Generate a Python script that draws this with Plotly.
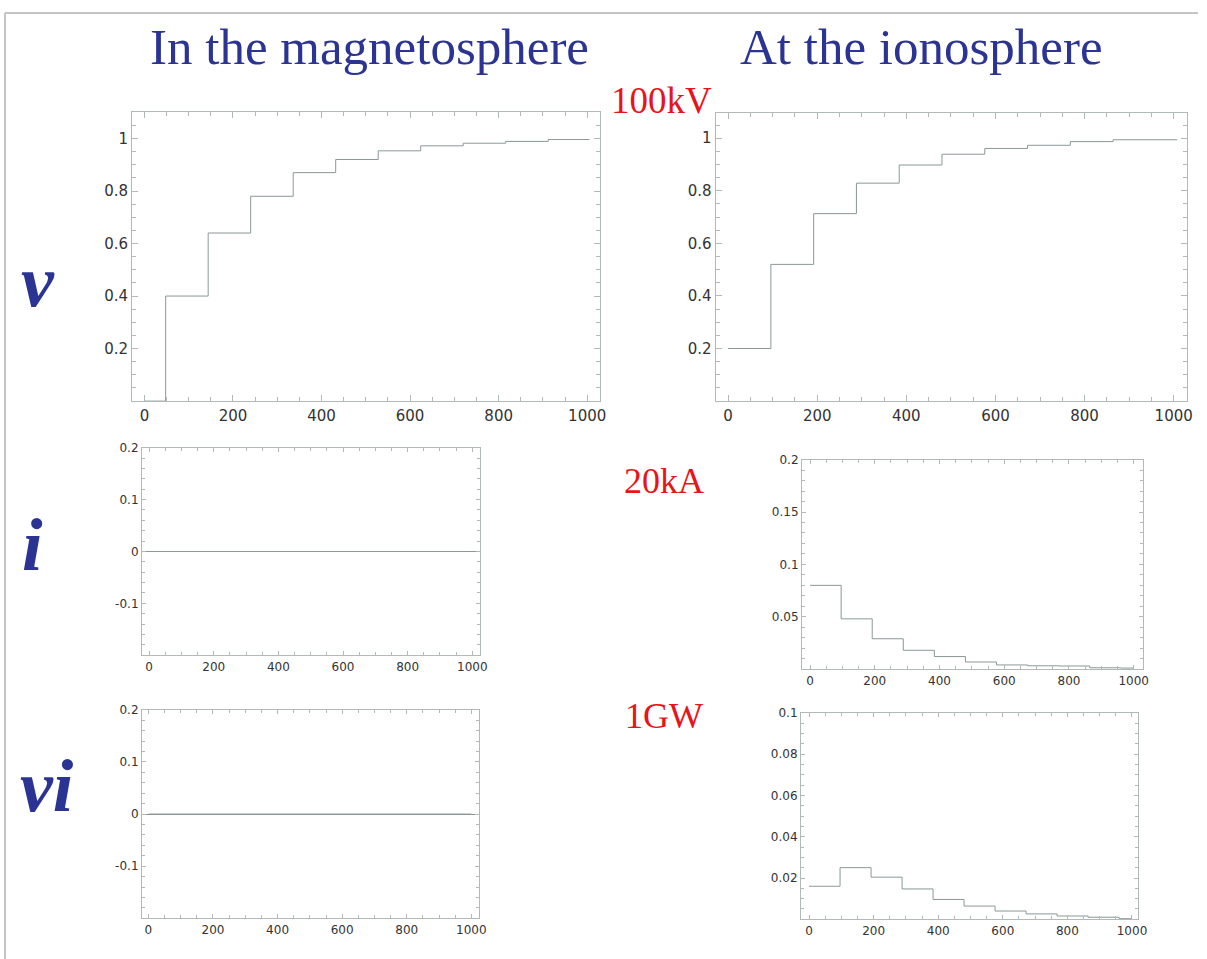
import plotly.graph_objects as go

W, H = 1207, 959

# ---- data ----
t_v_mag = [0, 48, 144, 240, 336, 432, 528, 624, 720, 816, 912, 1005]
v_mag = [0.0, 0.40, 0.64, 0.78, 0.87, 0.92, 0.953, 0.972, 0.982, 0.989, 0.996, 0.996]

t_v_ion = [0, 96, 192, 288, 384, 480, 576, 672, 768, 864, 1008]
v_ion = [0.2, 0.52, 0.713, 0.829, 0.898, 0.939, 0.961, 0.973, 0.987, 0.994, 0.994]

t_i_mag = [0, 1000]
i_mag = [0.0, 0.0]

t_i_ion = [0, 96, 192, 288, 384, 480, 576, 672, 768, 864, 960, 1000]
i_ion = [0.080, 0.048, 0.029, 0.018, 0.012, 0.0068, 0.0040, 0.0032, 0.0030, 0.0013, 0.0010, 0.0010]

t_vi_mag = [0, 1000]
vi_mag = [0.0, 0.0]

t_vi_ion = [0, 96, 192, 288, 384, 480, 576, 672, 768, 864, 960, 1000]
vi_ion = [0.016, 0.025, 0.0204, 0.0147, 0.0096, 0.0064, 0.0040, 0.0026, 0.0016, 0.0010, 0.0003, 0.0003]

x_ticks = [0, 200, 400, 600, 800, 1000]
y_ticks_v = [0.2, 0.4, 0.6, 0.8, 1.0]
y_text_v = ["0.2", "0.4", "0.6", "0.8", "1"]
y_ticks_zero = [-0.1, 0, 0.1, 0.2]
y_text_zero = ["-0.1", "0", "0.1", "0.2"]
y_ticks_i = [0.05, 0.1, 0.15, 0.2]
y_text_i = ["0.05", "0.1", "0.15", "0.2"]
y_ticks_vi = [0.02, 0.04, 0.06, 0.08, 0.1]
y_text_vi = ["0.02", "0.04", "0.06", "0.08", "0.1"]

col_titles = ["In the magnetosphere", "At the ionosphere"]
row_labels = ["v", "i", "vi"]
unit_labels = ["100kV", "20kA", "1GW"]

# ---- styling ----
BLUE = "#2b3492"
RED = "#e8141b"
FRAME = "#b2bab5"
LINE = "#8a9898"
TICKCOL = "#333333"

def px_dom_x(a, b):
    return [a / W, b / W]

def px_dom_y(top, bottom):
    return [1 - bottom / H, 1 - top / H]

panels = [
    # (x data, y data, xdomain px, ydomain px, yrange, yticks, ytext, yminor, fontsize, xrange, zeroline)
    (t_v_mag, v_mag, (133, 605), (106, 397), [0, 1.1], y_ticks_v, y_text_v, 0.05, 15, [-28, 1030], False),
    (t_v_ion, v_ion, (721, 1196), (107, 397), [0, 1.095], y_ticks_v, y_text_v, 0.05, 15, [-28, 1030], False),
    (t_i_mag, i_mag, (143, 484), (444, 653), [-0.2, 0.2], y_ticks_zero, y_text_zero, 0.02, 12, [-22, 1025], True),
    (t_i_ion, i_ion, (808, 1152), (456, 667), [0, 0.2], y_ticks_i, y_text_i, 0.01, 12, [-25, 1030], False),
    (t_vi_mag, vi_mag, (143, 483), (708, 918), [-0.2, 0.2], y_ticks_zero, y_text_zero, 0.02, 12, [-20, 1025], True),
    (t_vi_ion, vi_ion, (807, 1147), (711, 919), [0, 0.1], y_ticks_vi, y_text_vi, 0.005, 12, [-25, 1020], False),
]

fig = go.Figure()
layout = dict(
    width=W, height=H,
    margin=dict(l=0, r=0, t=0, b=0),
    paper_bgcolor="white", plot_bgcolor="white",
    showlegend=False,
)

for k, (xs, ys, xd, yd, yr, yt, ytx, ymin, fs, xr, zl) in enumerate(panels):
    n = k + 1
    xa = "x" if n == 1 else f"x{n}"
    ya = "y" if n == 1 else f"y{n}"
    fig.add_trace(go.Scatter(x=xs, y=ys, mode="lines", line=dict(color=LINE, width=1, shape="hv"),
                             xaxis=xa, yaxis=ya, hoverinfo="skip"))
    big = fs >= 14
    tl = 6 if big else 4
    common = dict(showline=True, linecolor=FRAME, linewidth=1, mirror="allticks",
                  ticks="inside", ticklen=tl, tickcolor=FRAME, tickwidth=1,
                  showgrid=False,
                  tickfont=dict(family="DejaVu Sans", size=fs, color=TICKCOL))
    layout["xaxis" if n == 1 else f"xaxis{n}"] = dict(
        domain=px_dom_x(*xd), range=xr, anchor=ya, tickvals=x_ticks,
        ticktext=[str(v) for v in x_ticks], zeroline=False,
        minor=dict(dtick=50, tick0=0, ticks="inside", ticklen=tl // 2 + 1, tickcolor=FRAME),
        ticklabelstandoff=0 if not big else 1,
        **common)
    layout["yaxis" if n == 1 else f"yaxis{n}"] = dict(
        domain=px_dom_y(*yd), range=yr, anchor=xa, tickvals=yt, ticktext=ytx,
        zeroline=zl, zerolinecolor=LINE, zerolinewidth=1,
        minor=dict(dtick=ymin, tick0=0, ticks="inside", ticklen=tl // 2 + 1, tickcolor=FRAME),
        ticklabelstandoff=0,
        **common)

ann = []
def A(text, x, y, size, color, bold=False, italic=False):
    t = text
    if bold:
        t = f"<b>{t}</b>"
    if italic:
        t = f"<i>{t}</i>"
    ann.append(dict(text=t, x=x / W, y=1 - y / H, xref="paper", yref="paper",
                    xanchor="center", yanchor="middle", showarrow=False,
                    font=dict(family="Liberation Serif", size=size, color=color)))

A(col_titles[0], 372, 40, 51, BLUE)
A(col_titles[1], 928, 40, 51, BLUE)
A(unit_labels[0], 666, 94, 37, RED)
A(unit_labels[1], 669, 477, 36, RED)
A(unit_labels[2], 669, 714, 36, RED)
A(row_labels[0], 38, 276, 74, BLUE, bold=True, italic=True)
A(row_labels[1], 33, 542, 74, BLUE, bold=True, italic=True)
A(row_labels[2], 47, 785, 74, BLUE, bold=True, italic=True)
layout["annotations"] = ann

layout["shapes"] = [
    dict(type="line", xref="paper", yref="paper", x0=5 / W, x1=5 / W, y0=0, y1=1 - 6 / H,
         line=dict(color="#c4c4c4", width=2)),
    dict(type="line", xref="paper", yref="paper", x0=5 / W, x1=1, y0=1 - 6 / H, y1=1 - 6 / H,
         line=dict(color="#c4c4c4", width=2)),
]

fig.update_layout(**layout)
fig.write_html("out.html")
